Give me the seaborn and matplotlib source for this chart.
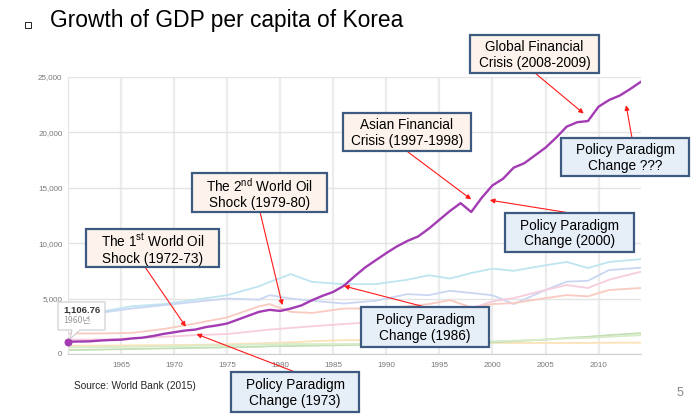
import numpy as np
import pandas as pd
import seaborn as sns
import matplotlib.pyplot as plt
from matplotlib.patches import Rectangle, Polygon
from matplotlib.ticker import MultipleLocator, FuncFormatter

# GDP per capita of Korea (constant US$)
years = list(range(1960, 2015))
korea_gdp = [1106.76, 1125, 1140, 1210, 1260, 1290, 1400, 1470, 1620, 1810,
             1960, 2110, 2200, 2430, 2570, 2750, 3100, 3450, 3800, 3980,
             3880, 4100, 4380, 4850, 5250, 5600, 6150, 7000, 7800, 8450,
             9100, 9700, 10200, 10600, 11300, 12100, 12900, 13600, 12800, 14100,
             15200, 15800, 16800, 17200, 17900, 18600, 19500, 20500, 20900, 21000,
             22300, 22900, 23300, 23900, 24550]

# faded comparison lines in the background
bg_years = [1960, 1963, 1966, 1969, 1972, 1975, 1978, 1979, 1981, 1983, 1986, 1989,
            1992, 1994, 1996, 1998, 2000, 2002, 2005, 2007, 2009, 2011, 2014]
line_cyan = [3400, 3800, 4300, 4500, 4900, 5300, 6100, 6500, 7200, 6500, 6300, 6300,
             6700, 7100, 6800, 7300, 7700, 7500, 8000, 8300, 7750, 8300, 8550]
line_blue = [3300, 3700, 4100, 4400, 4700, 5000, 4900, 5300, 5000, 4800, 4550, 4800,
             5400, 5300, 5700, 5500, 5300, 4500, 5770, 6520, 6600, 7570, 7780]
line_salmon = [1850, 1850, 1900, 2250, 2750, 3300, 4300, 4500, 3800, 3700, 4100, 4100,
               4300, 4500, 4860, 4200, 4500, 4590, 5040, 5310, 5200, 5770, 5950]
line_pink = [1300, 1300, 1400, 1550, 1700, 1800, 2100, 2200, 2350, 2500, 2700, 2900,
             3250, 3500, 3900, 4100, 4750, 5040, 5770, 6220, 5950, 6700, 7420]
line_yellow = [750, 750, 780, 800, 820, 880, 950, 1000, 1050, 1150, 1250, 1250,
               1200, 1150, 1100, 1050, 1000, 1000, 1000, 1000, 1000, 1020, 1020]
line_green = [350, 400, 450, 500, 550, 600, 650, 700, 720, 750, 800, 850,
              900, 950, 1000, 1000, 1050, 1150, 1300, 1450, 1550, 1700, 1880]
line_green2 = [600, 620, 650, 700, 750, 800, 850, 880, 900, 900, 900, 950,
               1000, 1050, 1100, 1100, 1150, 1200, 1300, 1400, 1450, 1550, 1700]

# annotations: label, target year, target value
event_labels = ["The 1$^{\\mathrm{st}}$ World Oil\nShock (1972-73)",
                "The 2$^{\\mathrm{nd}}$ World Oil\nShock (1979-80)",
                "Asian Financial\nCrisis (1997-1998)",
                "Global Financial\nCrisis (2008-2009)",
                "Policy Paradigm\nChange ???",
                "Policy Paradigm\nChange (2000)",
                "Policy Paradigm\nChange (1986)",
                "Policy Paradigm\nChange (1973)"]
event_years = [1971.1, 1980.2, 1998.0, 2008.6, 2012.6, 1999.75, 1986.0, 1972.1]
event_values = [2460, 4410, 13940, 21680, 22430, 13870, 6130, 1800]
event_kind = ["shock", "shock", "shock", "shock", "policy", "policy", "policy", "policy"]

# layout of boxes in pixels (x0, y0, w, h, tail_x, tail_y), top-left origin
box_layout = [(86, 229, 133, 38, 145, 267),
              (192, 173, 135, 39, 260, 212),
              (343, 113, 128, 38, 408, 152),
              (470, 35, 129, 38, 535, 73),
              (561, 138, 128, 38, 632, 138),
              (505, 213, 129, 39, 570, 213),
              (361, 307, 128, 40, 425, 307),
              (231, 372, 128, 40, 295, 372)]

W, H = 696, 418


def px(x, y):
    return (x / W, 1 - y / H)


sns.set_style("white")
plt.rcParams['font.family'] = ['Liberation Sans', 'DejaVu Sans']
plt.rcParams['mathtext.fontset'] = 'custom'
plt.rcParams['mathtext.rm'] = 'Liberation Sans'

fig = plt.figure(figsize=(W / 100, H / 100), dpi=100)
ax = fig.add_axes([68 / W, 1 - 354 / H, (641 - 68) / W, (354 - 76.7) / H])

bg_df = pd.DataFrame({
    'year': bg_years * 7,
    'value': line_cyan + line_blue + line_salmon + line_pink + line_yellow + line_green + line_green2,
    'series': (['cyan'] * len(bg_years) + ['blue'] * len(bg_years) + ['salmon'] * len(bg_years)
               + ['pink'] * len(bg_years) + ['yellow'] * len(bg_years) + ['green'] * len(bg_years)
               + ['green2'] * len(bg_years)),
})
bg_palette = {'cyan': '#bfe5f1', 'blue': '#cad6f2', 'salmon': '#f9cabf', 'pink': '#f7cddd',
              'yellow': '#fce2b8', 'green': '#c2dfb5', 'green2': '#d8ecca'}
sns.lineplot(data=bg_df, x='year', y='value', hue='series', palette=bg_palette,
             linewidth=1.3, legend=False, ax=ax, zorder=2)

purple = '#a33bb3'
sns.lineplot(x=years, y=korea_gdp, color=purple, linewidth=1.7, ax=ax, zorder=4)
ax.scatter([years[0]], [korea_gdp[0]], s=22, color=purple, zorder=6, clip_on=False)

ax.set_xlim(1960, 2014)
ax.set_ylim(0, 25000)
ax.set_xticks(range(1965, 2014, 5))
ax.xaxis.set_minor_locator(MultipleLocator(1))
ax.yaxis.set_major_locator(MultipleLocator(5000))
ax.yaxis.set_major_formatter(FuncFormatter(lambda v, p: f"{int(v):,}"))
ax.grid(axis='y', color='#e4e4e4', linewidth=1.0)
ax.grid(axis='x', color='#ececec', linewidth=1.6)
ax.set_axisbelow(True)
for s in ['top', 'right']:
    ax.spines[s].set_visible(False)
ax.spines['left'].set_color('#e4e4e4')
ax.spines['bottom'].set_color('#cfcfcf')
ax.tick_params(axis='y', length=0, pad=4, labelsize=5.8, labelcolor='#777777')
ax.tick_params(axis='x', which='both', length=3, width=0.7, color='#cfcfcf',
               pad=3, labelsize=5.8, labelcolor='#777777')
ax.set_xlabel('')
ax.set_ylabel('')

# title and bullet
fig.add_artist(Rectangle(px(25, 28), 5.5 / W, 5.5 / H, transform=fig.transFigure,
                         fc='white', ec='black', lw=0.6))
fig.text(*px(50, 27), "Growth of GDP per capita of Korea", fontsize=16.4,
         va='baseline', ha='left', color='black')

# tooltip at 1960
tip = Polygon([px(58, 302), px(105, 302), px(105, 330), px(80, 330), px(70, 339),
               px(72, 330), px(58, 330)], closed=True, transform=fig.transFigure,
              fc='white', ec='#cccccc', lw=0.8, zorder=7)
fig.add_artist(tip)
fig.text(*px(63, 310), f"{korea_gdp[0]:,.2f}", fontsize=6.8, fontweight='bold',
         color='#333333', va='center', ha='left', zorder=8)
fig.text(*px(63, 321), f"{years[0]}년", fontsize=6.3, color='#999999', va='center', ha='left',
         family=['Noto Sans CJK KR', 'DejaVu Sans'], zorder=8)

# annotation boxes and arrows
for label, yr, val, kind, (x0, y0, w, h, tx, ty) in zip(event_labels, event_years, event_values,
                                                        event_kind, box_layout):
    fc = '#fdf3ec' if kind == 'shock' else '#e6eef8'
    fig.add_artist(Rectangle(px(x0, y0 + h), w / W, h / H, transform=fig.transFigure,
                             fc=fc, ec='#3d5a80', lw=1.6, zorder=9))
    fig.text(*px(x0 + w / 2, y0 + h / 2 + 1), label, fontsize=9.8, ha='center', va='center',
             color='black', linespacing=1.15, zorder=10)
    ax.annotate('', xy=(yr, val), xycoords='data', xytext=px(tx, ty),
                textcoords='figure fraction', annotation_clip=False,
                arrowprops=dict(arrowstyle='-|>', color='#ff1a1a', lw=0.8,
                                mutation_scale=7, shrinkA=0, shrinkB=0), zorder=8)

fig.text(*px(74, 386), "Source: World Bank (2015)", fontsize=7.3, va='center', ha='left')
fig.text(*px(680, 393), "5", fontsize=9, color='#888888', va='center', ha='center')

fig.savefig('out.png', dpi=100)
